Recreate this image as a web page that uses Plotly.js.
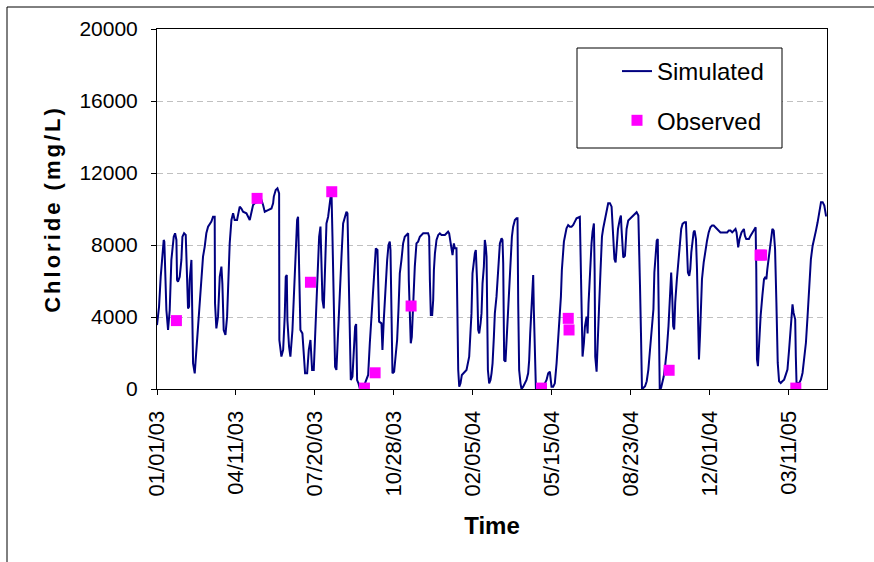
<!DOCTYPE html>
<html>
<head>
<meta charset="utf-8">
<script src="https://cdn.plot.ly/plotly-3.0.1.min.js"></script>
<style>
  html, body { margin: 0; padding: 0; background: #ffffff; overflow: hidden; }
  #chart { width: 874px; height: 562px; }
  .ytitle { letter-spacing: 3px; }
</style>
</head>
<body>
<div id="chart"></div>
<script>
// ---- Data (days since 2003-01-01, chloride mg/L) ----
const simDay = [
  0, 2.6, 4.7, 6.8, 8.5, 9.3, 10.6, 11.9, 14, 16.1, 18.2, 21.2, 22.9, 24.6, 25.4, 26.6, 28.8, 30.9, 32.2, 34.3,
  36.4, 38.1, 39.3, 40.6, 41.4, 43.6, 44.8, 45.7, 47.8, 49.9, 52, 54.1, 56.2, 58.3, 60.4, 62.5, 64.7, 68.9, 71, 73.1,
  73.5, 75.2, 77.3, 79.5, 81.6, 82.8, 84.5, 86.7, 88.8, 90.9, 92.1, 94.3, 96.4, 98.4, 101.4, 104.8, 106.9, 109, 113.3, 117.5,
  119.6, 121.7, 123.8, 132.3, 134.4, 136.5, 140.7, 145, 147.1, 148, 150.4, 152.6, 154.7, 155, 157.6, 159.8, 161.8, 163.1, 164.4, 165.2,
  167.3, 169, 171.6, 174.6, 175.8, 177.5, 178.7, 180, 181.7, 184.2, 185.9, 187.6, 190.2, 192.3, 194.4, 196.5, 198.6, 200.7, 202.8, 205.4,
  207.1, 208.3, 209.6, 211.3, 212.6, 214.7, 216.8, 218.9, 221, 222.3, 224, 225.6, 227.3, 229.4, 231.6, 233.7, 235.8, 237.9, 240, 241.3,
  243, 244.2, 245.5, 247.6, 249.3, 251, 252.3, 253.5, 255.2, 256.9, 261.1, 265.4, 267.5, 269.6, 271.7, 273.8, 275.9, 277.2, 279.3, 280.2,
  281.4, 284.4, 285.6, 287.3, 289.9, 291.6, 293.3, 294.9, 295.8, 297.1, 298.3, 300.4, 302.5, 304.2, 305.9, 307.6, 309.7, 311.8, 313.9, 316,
  318.2, 319, 320.3, 321.5, 322.8, 324.5, 326.6, 328.7, 330.8, 333, 335.1, 337.2, 343.5, 344.8, 345.7, 346.9, 348.6, 349.9, 350.8, 352.1,
  354.1, 356.3, 358.3, 360.4, 364.7, 366.7, 368.8, 370.1, 371.8, 373.1, 374.4, 376.1, 377.4, 379.4, 380.3, 381.6, 382.9, 384.5, 386.2, 387.9,
  390, 392.1, 395.5, 397.2, 398.4, 399.7, 401.4, 402.7, 403.9, 405.6, 406.9, 408.2, 409.9, 411.1, 412.4, 414.1, 415.3, 416.6, 417.5, 418.3,
  419.2, 420.8, 422.5, 423.8, 425.1, 426.8, 428, 430.1, 432.2, 434.4, 436.5, 437.7, 438.6, 439.8, 441.5, 442.8, 444.9, 447, 448.3, 449.6,
  451.2, 453.4, 455.5, 456.7, 457.6, 458.8, 460.5, 461.8, 463.9, 466, 468.1, 470.2, 471.5, 472.8, 474.5, 476.6, 477.4, 478.7, 480, 482.9,
  491.4, 493.5, 495.6, 497.7, 499.8, 501.9, 504, 506.2, 508.3, 510.4, 511.7, 512.9, 513.8, 515.5, 516.7, 518.8, 520.9, 523.1, 525.2, 527.3,
  529.4, 531.5, 535.7, 536.6, 537.9, 539.1, 540.8, 542.1, 544.2, 545.5, 546.7, 548.4, 550.5, 551.8, 553.5, 554.4, 555.2, 556.9, 558.2, 559.9,
  561.9, 563.7, 565.3, 567.4, 569.5, 571.6, 573.8, 575.9, 577.5, 579.5, 581, 582.5, 584, 586.4, 587.7, 588.5, 589.4, 590.7, 592.8, 593.6,
  594.9, 597, 599.2, 603.4, 607.6, 609.8, 610.6, 611.9, 613.2, 614.4, 616.1, 618.3, 620.4, 622.5, 624.6, 626.7, 628.9, 630.1, 631.8, 633.1,
  634.4, 635.2, 636.1, 636.9, 638.6, 640.3, 642, 643.7, 645.9, 648, 650.1, 651.4, 652.7, 653.9, 655.2, 656.5, 658.6, 660.7, 662.8, 664.1,
  665.8, 668.4, 670.1, 671.3, 672.6, 674.3, 675.6, 676.9, 678.6, 679.8, 681.1, 682.8, 684.1, 685.3, 686.6, 687.9, 689.2, 690.4, 692.6, 694.7,
  696.8, 698.9, 701.1, 703.2, 705.3, 707.4, 709.5, 711.7, 713.8, 718, 722.3, 724.4, 726.5, 728.7, 730.8, 732.9, 734.2, 735, 736.3, 738,
  740.5, 743.5, 744.8, 746.5, 749.9, 752, 754.1, 756.3, 758.4, 759.2, 760.1, 761.3, 762.6, 764.7, 766.9, 769, 770.3, 772, 773.2, 775.4,
  777.5, 779.6, 781.3, 783, 784.7, 786.4, 788.1, 790.2, 792.3, 794.5, 796.6, 798.7, 800.8, 803, 805.1, 806.4, 808.5, 809.3, 810.2, 813.6,
  815.7, 817.8, 819.9, 822.1, 824.2, 826.3, 828.4, 830.6, 832.7, 834.8, 836.9, 839.1, 841.2, 843.3, 845.4, 847.5, 848.6
];
const simValue = [
  3550, 4570, 6240, 7720, 8280, 8185, 6610, 4390, 3280, 4390, 7170, 8460, 8650, 8280, 6056, 5960, 6240, 7170, 8460, 8650,
  8560, 6610, 4480, 4570, 6056, 7170, 4760, 1426, 870, 2170, 3460, 4200, 6056, 7350, 7900, 8650, 9020, 9300, 9570, 9570,
  4760, 3370, 4020, 6240, 6800, 5870, 3280, 3000, 4020, 7350, 8090, 9390, 9760, 9390, 9390, 10130, 10030, 9850, 9760, 9390,
  9760, 10220, 10315, 10500, 10220, 9850, 9940, 10030, 10315, 10690, 11060, 11150, 10870, 2720, 1800, 2170, 4020, 6240, 6330, 3830,
  2350, 1800, 3280, 6610, 8280, 9390, 9570, 7350, 3280, 3090, 1610, 870, 870, 2170, 2720, 1056, 1056, 3280, 6056, 8460,
  9020, 7540, 4945, 4480, 6240, 9200, 9570, 10315, 11060, 8460, 3830, 1240, 1056, 3460, 5690, 7350, 9200, 9570, 9850, 9760,
  6610, 3280, 500, 685, 1800, 3460, 3610, 500, 315, 40, 40, 500, 780, 2540, 4020, 5500, 6610, 7815, 7720, 5500,
  3740, 3650, 2170, 3830, 6056, 7170, 8000, 8185, 7720, 4390, 870, 960, 1800, 2720, 4390, 6425, 7170, 8090, 8460, 8560,
  8650, 6056, 3830, 2540, 2900, 4760, 6800, 8090, 8185, 8460, 8560, 8650, 8650, 8460, 6056, 4110, 4110, 4945, 6610, 7540,
  8280, 8560, 8650, 8560, 8560, 8650, 8740, 8650, 8185, 7630, 7440, 8090, 7815, 7815, 4760, 1056, 130, 315, 780, 870,
  960, 1056, 1800, 3460, 4200, 6425, 7170, 7540, 7720, 5870, 3280, 3090, 3650, 4200, 5870, 6800, 8280, 7900, 7350, 3650,
  1056, 315, 500, 870, 1426, 2910, 4200, 5130, 6800, 8090, 8370, 8280, 6980, 1610, 1520, 2720, 4390, 5870, 7540, 8460,
  9020, 9390, 9480, 9480, 4760, 1056, 315, 0, 130, 315, 500, 870, 1610, 3090, 4570, 6330, 4390, 1056, 40, 40,
  315, 500, 870, 960, 130, 130, 315, 1426, 2720, 4020, 5130, 6610, 7350, 8185, 8460, 8930, 9110, 9020, 9020, 9110,
  9300, 9480, 9570, 7350, 3280, 1800, 2540, 3460, 4020, 3090, 4760, 6610, 8090, 8740, 9200, 6610, 1800, 960, 2170, 4390,
  6610, 8460, 8930, 9390, 9940, 10315, 10315, 10130, 8830, 7220, 7030, 7960, 8890, 9450, 9635, 8890, 7960, 7310, 7400, 7960,
  8890, 9355, 9450, 9635, 9820, 9635, 8520, 5730, 2940, 0, 55, 150, 430, 1080, 2195, 3125, 4430, 6470, 7590, 8240,
  8330, 5730, 2940, 0, 55, 335, 705, 1265, 2195, 3500, 5170, 6470, 5170, 3500, 3310, 4800, 6100, 7030, 8150, 8890,
  9170, 9260, 9260, 7590, 6470, 6290, 6660, 7590, 8520, 8700, 8800, 8330, 6660, 3310, 1640, 2940, 4800, 6100, 7030, 7775,
  8240, 8700, 8985, 9080, 9080, 8985, 8890, 8800, 8700, 8700, 8700, 8800, 8800, 8700, 8800, 8890, 8700, 8150, 7870, 8330,
  8700, 8890, 8520, 8330, 8330, 8520, 8700, 8890, 8985, 6660, 1640, 1265, 2570, 4055, 5170, 6100, 6190, 6100, 6660, 7400,
  8330, 8890, 8800, 7775, 4800, 1450, 430, 335, 430, 520, 800, 1080, 2195, 3680, 4705, 4240, 3870, 1820, 335, 335,
  520, 890, 1820, 2570, 4055, 5730, 7220, 7960, 8330, 8800, 9260, 9820, 10380, 10380, 10190, 9635, 9635
];
const obsDay   = [24.6, 126.8, 194.4, 221.4, 262.8, 276.3, 321.9, 487.1, 521, 522, 648.8, 764, 766, 809.3];
const obsValue = [3800, 10590, 5930, 10960, 50, 900, 4610, 50, 3925, 3280, 1040, 7440, 7440, 50];

const tickDates  = ['2003-01-01', '2003-04-11', '2003-07-20', '2003-10-28', '2004-02-05',
                    '2004-05-15', '2004-08-23', '2004-12-01', '2005-03-11'];
const tickLabels = ['01/01/03', '04/11/03', '07/20/03', '10/28/03', '02/05/04',
                    '05/15/04', '08/23/04', '12/01/04', '03/11/05'];
const yTicks = [0, 4000, 8000, 12000, 16000, 20000];

// ---- helpers ----
const START = Date.UTC(2003, 0, 1);
function dayToDate(d) {
  return new Date(START + d * 86400000).toISOString().slice(0, 19).replace('T', ' ');
}

const FONT = 'Arial, "Liberation Sans", sans-serif';

const simTrace = {
  x: simDay.map(dayToDate), y: simValue,
  type: 'scatter', mode: 'lines', name: 'Simulated',
  line: { color: '#000080', width: 2 },
  legendgroup: 'a', hoverinfo: 'x+y'
};
const obsTrace = {
  x: obsDay.map(dayToDate), y: obsValue,
  type: 'scatter', mode: 'markers', name: 'Observed',
  marker: { symbol: 'square', size: 11, color: '#FF00FF' },
  legendgroup: 'b', hoverinfo: 'x+y'
};

// plot area in px: left 157, right 827, top 29, bottom 389
const L = 157, R = 827, T = 29, B = 389;
const px = v => (v - L) / (R - L);
const py = v => (B - v) / (B - T);

const layout = {
  width: 874, height: 562,
  margin: { l: L, r: 874 - R, t: T, b: 562 - B },
  paper_bgcolor: '#ffffff', plot_bgcolor: '#ffffff',
  font: { family: FONT, color: '#000000' },
  showlegend: true,
  legend: {
    x: px(617), y: py(49), xanchor: 'left', yanchor: 'top',
    bgcolor: 'rgba(0,0,0,0)', borderwidth: 0,
    font: { family: FONT, size: 24, color: '#000000' },
    traceorder: 'grouped', tracegroupgap: 15
  },
  xaxis: {
    type: 'date',
    range: [dayToDate(0), dayToDate(848.8)],
    tickmode: 'array', tickvals: tickDates, ticktext: tickLabels,
    tickangle: -90, ticks: 'outside', ticklen: 5, tickcolor: '#000000',
    ticklabelstandoff: 7,
    tickfont: { family: FONT, size: 22, color: '#000000' },
    showline: true, linecolor: '#000000', linewidth: 1, mirror: true,
    showgrid: false, zeroline: false,
    title: { text: 'Time', font: { family: FONT, size: 24, color: '#000000', weight: 'bold' }, standoff: 21 }
  },
  yaxis: {
    range: [0, 20000],
    tickmode: 'array', tickvals: yTicks, ticktext: yTicks.map(String),
    ticks: 'outside', ticklen: 5, tickcolor: '#000000',
    ticklabelstandoff: 9,
    tickfont: { family: FONT, size: 21, color: '#000000' },
    showline: true, linecolor: '#000000', linewidth: 1, mirror: true,
    showgrid: true, gridcolor: '#c0c0c0', gridwidth: 1, griddash: '6px,4px',
    zeroline: false,
    title: { text: 'Chloride (mg/L)', font: { family: FONT, size: 22, color: '#000000', weight: 'bold' }, standoff: 12 }
  },
  shapes: [
    // outer chart frame
    { type: 'rect', xref: 'paper', yref: 'paper', layer: 'below',
      x0: px(7), x1: px(900), y0: py(620), y1: py(7),
      line: { color: '#000000', width: 1 }, fillcolor: 'rgba(0,0,0,0)' },
    // legend box
    { type: 'rect', xref: 'paper', yref: 'paper', layer: 'above',
      x0: px(577), x1: px(782), y0: py(148), y1: py(48),
      line: { color: '#000000', width: 1 }, fillcolor: '#ffffff' }
  ]
};

Plotly.newPlot('chart', [simTrace, obsTrace], layout, { displayModeBar: false, staticPlot: true });
</script>
</body>
</html>
